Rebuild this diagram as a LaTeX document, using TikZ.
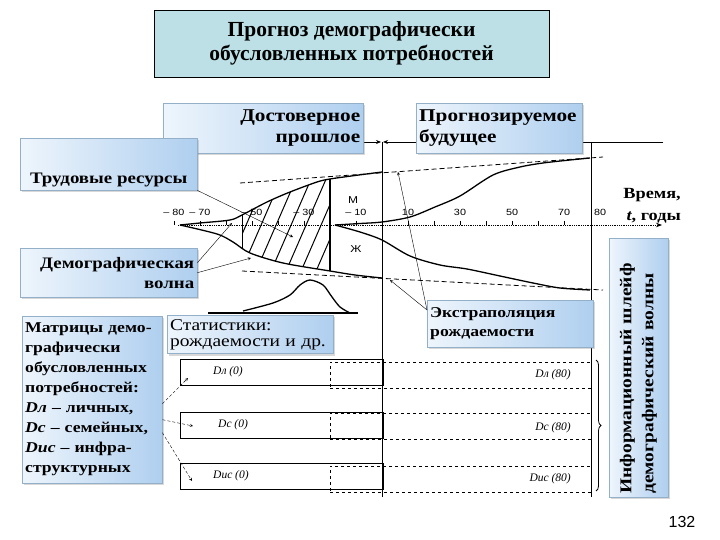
\documentclass[tikz,border=0pt]{standalone}
\usepackage{fontspec}
\setmainfont{Liberation Serif}
\newfontfamily\boxfont[FakeStretch=1.18]{Liberation Serif}
\newfontfamily\numfont{Liberation Sans}
\newfontfamily\ticknum[FakeStretch=1.2]{Liberation Sans}
\usetikzlibrary{positioning}
\usetikzlibrary{arrows.meta}
\usetikzlibrary{shadows}
\usetikzlibrary{decorations.pathreplacing}

\definecolor{titlefill}{HTML}{BCE0E5}
\definecolor{boxblue}{HTML}{AFCFEF}
\definecolor{boxlight}{HTML}{EEF5FC}
\definecolor{boxedge}{HTML}{94AFC8}

\begin{document}
\begin{tikzpicture}[
        x=1pt, y=-1pt,
        >=stealth,
        titlebox/.style={draw=black, fill=titlefill, minimum width=395pt, minimum height=67pt, inner sep=2pt,
            font=\fontsize{21.5}{24}\selectfont\bfseries, align=center},
        infobox/.style={draw=boxedge, left color=boxlight, right color=boxblue, inner xsep=3pt, inner ysep=4pt, anchor=north west,
            drop shadow={opacity=0.3, shadow xshift=2pt, shadow yshift=-2pt},
            font=\boxfont\fontsize{16}{20}\selectfont\bfseries},
        rowbox/.style={draw=black, thick, minimum width=203pt, minimum height=26pt, inner sep=0pt, anchor=north west},
        futbox/.style={draw=black, dashed, minimum width=261pt, minimum height=26pt, inner sep=0pt, anchor=north west},
        ticklabel/.style={font=\ticknum\fontsize{9}{9}\selectfont, inner sep=0pt},
        dlabel/.style={font=\fontsize{11.5}{11.5}\selectfont\itshape, inner sep=0pt},
        curve/.style={line width=1.3pt},
        guide/.style={dash pattern=on 5pt off 3pt, line width=0.8pt},
        pointer/.style={->, thin}
    ]

        \fill[white] (0,0) rectangle (720,540);
        \useasboundingbox (0,0) rectangle (720,540);

        \node [titlebox] (title) at (351.5,43.5) {Прогноз демографически\\обусловленных потребностей};

        % time line past / future
        \coordinate (now) at (382,142);
        \coordinate (pastend) at (363,142);
        \coordinate (lineend) at (663,142);
        \coordinate (horizon) at (591,142);
        \coordinate (nowfoot) at (382,497);
        \coordinate (horizonfoot) at (591,497);
        \draw[thick, -{Stealth[length=5pt,width=4pt]}] (pastend) -- ([xshift=-1pt]now);
        \draw[thick, -{Stealth[length=5pt,width=4pt]}] (lineend) -- ([xshift=1pt]now);
        \draw[thick] (now) -- (nowfoot);
        \draw[thick] (horizon) -- (horizonfoot);

        \node [infobox, font=\boxfont\fontsize{18}{21}\selectfont\bfseries, minimum width=200pt, minimum height=50pt, text width=194pt, align=right] (past) at (163,103) {Достоверное\\прошлое};
        \node [infobox, font=\boxfont\fontsize{18}{21}\selectfont\bfseries, minimum width=166pt, minimum height=50pt, text width=160pt, align=left] (future) at (416,103) {Прогнозируемое\\будущее};
        \node [infobox, minimum width=177pt, text height=41pt, text depth=3pt] (labour) at (20,138) {Трудовые ресурсы};
        \node [infobox, minimum width=177pt, minimum height=49pt, text width=171pt, align=right] (wave) at (20,248) {Демографическая\\волна};

        % time axis
        \coordinate (axisstart) at (178,225);
        \coordinate (axisend) at (662,225);
        \draw[densely dotted, thick, -{Stealth[length=6pt]}] (axisstart) -- (axisend);
        \foreach \t in {-80,-70,-60,-50,-40,-30,-20,-10,10,20,30,40,50,60,70}
            \draw ({382+2.6*\t},221) -- ({382+2.6*\t},225);
        \foreach \t/\lab in {-80/{– 80},-70/{– 70},-50/{– 50},-30/{– 30},-10/{– 10},10/10,30/30,50/50,70/70}
            \node [ticklabel] (tl\t) at ({382+2.6*\t},212) {\lab};
        \node [ticklabel] (tl80) at (600,212) {80};
        \node [ticklabel, font=\ticknum\fontsize{10}{10}\selectfont] (male) at (353,200) {М};
        \node [ticklabel, font=\ticknum\fontsize{10}{10}\selectfont] (female) at (356,249) {Ж};
        \node [font=\boxfont\fontsize{15.5}{22}\selectfont\bfseries, align=right, anchor=east, inner sep=0pt] (timelabel) at (681,206) {Время,\\\textit{t}, годы};

        % hatched cohort
        \begin{scope}
            \clip (242,150) rectangle (330,300);
            \clip plot[smooth] coordinates {(180,225) (200,223) (230,220) (242,215) (267,202) (290,192) (317,182) (330,179) (355,175.5) (382,172)}
                -- plot[smooth] coordinates {(382,278) (355,275) (330,271) (283,263) (250,253) (233,242) (217,234) (180,225)} -- cycle;
            \foreach \h in {190,205,...,340}
                \draw[line width=1pt] (\h,285) -- (\h+50,170);
        \end{scope}
        \draw[thin] (242,215) -- (242,248);
        \draw[curve] (330,179) -- (330,271);

        % guides and curves
        \draw[guide] (240,183) -- (603,157);
        \draw[guide] (242,271) -- (603,290);
        \draw[curve] plot[smooth] coordinates {(180,225) (200,223) (230,220) (242,215) (267,202) (290,192) (317,182) (330,179) (355,175.5) (382,172)};
        \draw[curve] plot[smooth] coordinates {(180,225) (217,234) (233,242) (250,253) (283,263) (330,271) (355,275) (382,278)};
        \draw[curve] plot[smooth] coordinates {(335,225) (360,223.5) (382,222) (410,217) (435,207) (460,196) (493,175) (520,167) (543,163) (570,160) (590,158)};
        \draw[curve] plot[smooth] coordinates {(335,225) (360,232) (382,240) (410,256) (440,265) (467,269) (500,276) (533,283) (560,288) (590,290)};

        % birth statistics
        \draw[curve] (208,313) -- (358,313);
        \draw[curve] plot[smooth] coordinates {(243,311) (273,303) (290,295) (300,285) (310,280) (323,285) (332,297) (340,307) (350,313)};

        \node [infobox, font=\boxfont\fontsize{16.5}{16}\selectfont, minimum width=166pt, minimum height=37pt, text width=160pt, align=left] (stats) at (167,315) {Статистики:\\рождаемости и др.};
        \node [infobox, font=\boxfont\fontsize{15}{19}\selectfont\bfseries, minimum width=166pt, minimum height=47pt, text width=160pt, align=left] (extra) at (427,300) {Экстраполяция\\рождаемости};

        \coordinate (labourtip) at (293,237);
        \coordinate (wavetipA) at (232,223);
        \coordinate (wavetipB) at (251,258);
        \coordinate (upperguide) at (398,172);
        \coordinate (lowerguide) at (390,280);
        \draw[pointer] (labour.south east) -- (labourtip);
        \draw[pointer] ([yshift=10pt]wave.east) -- (wavetipA);
        \draw[pointer] (wave.east) -- (wavetipB);
        \draw[pointer] ([yshift=-10pt]extra.north west) -- (upperguide);
        \draw[pointer] ([yshift=-10pt]extra.north west) -- (lowerguide);

        % matrices of needs
        \node [rowbox] (rowP) at (180,359) {};
        \node [rowbox] (rowF) at (180,412) {};
        \node [rowbox] (rowI) at (180,463) {};
        \node [futbox] (futP) at (330,362) {};
        \node [futbox] (futF) at (330,413) {};
        \node [futbox] (futI) at (330,466) {};
        \node [dlabel, anchor=west] (dP0) at (213,372) {Dл (0)};
        \node [dlabel, anchor=west] (dF0) at (218,425) {Dс (0)};
        \node [dlabel, anchor=west] (dI0) at (213,476) {Dис (0)};
        \node [dlabel, anchor=east] (dP80) at (571,375) {Dл (80)};
        \node [dlabel, anchor=east] (dF80) at (571,428) {Dс (80)};
        \node [dlabel, anchor=east] (dI80) at (571,479) {Dис (80)};

        \node [infobox, font=\boxfont\fontsize{15}{20}\selectfont\bfseries, minimum width=140pt, minimum height=167pt, text width=134pt, align=left] (matrix) at (22,316)
            {Матрицы демо-\\графически\\обусловленных\\потребностей:\\\textit{Dл} – личных,\\\textit{Dс} – семейных,\\\textit{Dис} – инфра-\\структурных};

        \coordinate (tipP) at (188,378);
        \coordinate (tipF) at (193,426);
        \coordinate (tipI) at (192,481);
        \draw[pointer, densely dashed] ([yshift=-4pt]matrix.east) -- (tipP);
        \draw[pointer, densely dashed] ([yshift=-20pt]matrix.east) -- (tipF);
        \draw[pointer, densely dashed] ([yshift=-33pt]matrix.east) -- (tipI);

        \draw[thick, decorate, decoration={brace, amplitude=5pt}] (596,360) -- (596,491);

        \node [infobox, rotate=90, anchor=center, font=\boxfont\fontsize{16.5}{22}\selectfont\bfseries, minimum width=259pt, minimum height=59pt, text width=252pt, align=left] (trail) at (638.5,367.5)
            {Информационный шлейф\\демографический волны};

        \node [font=\numfont\fontsize{16}{16}\selectfont] (pagenum) at (682,522) {132};

\end{tikzpicture}
\end{document}
